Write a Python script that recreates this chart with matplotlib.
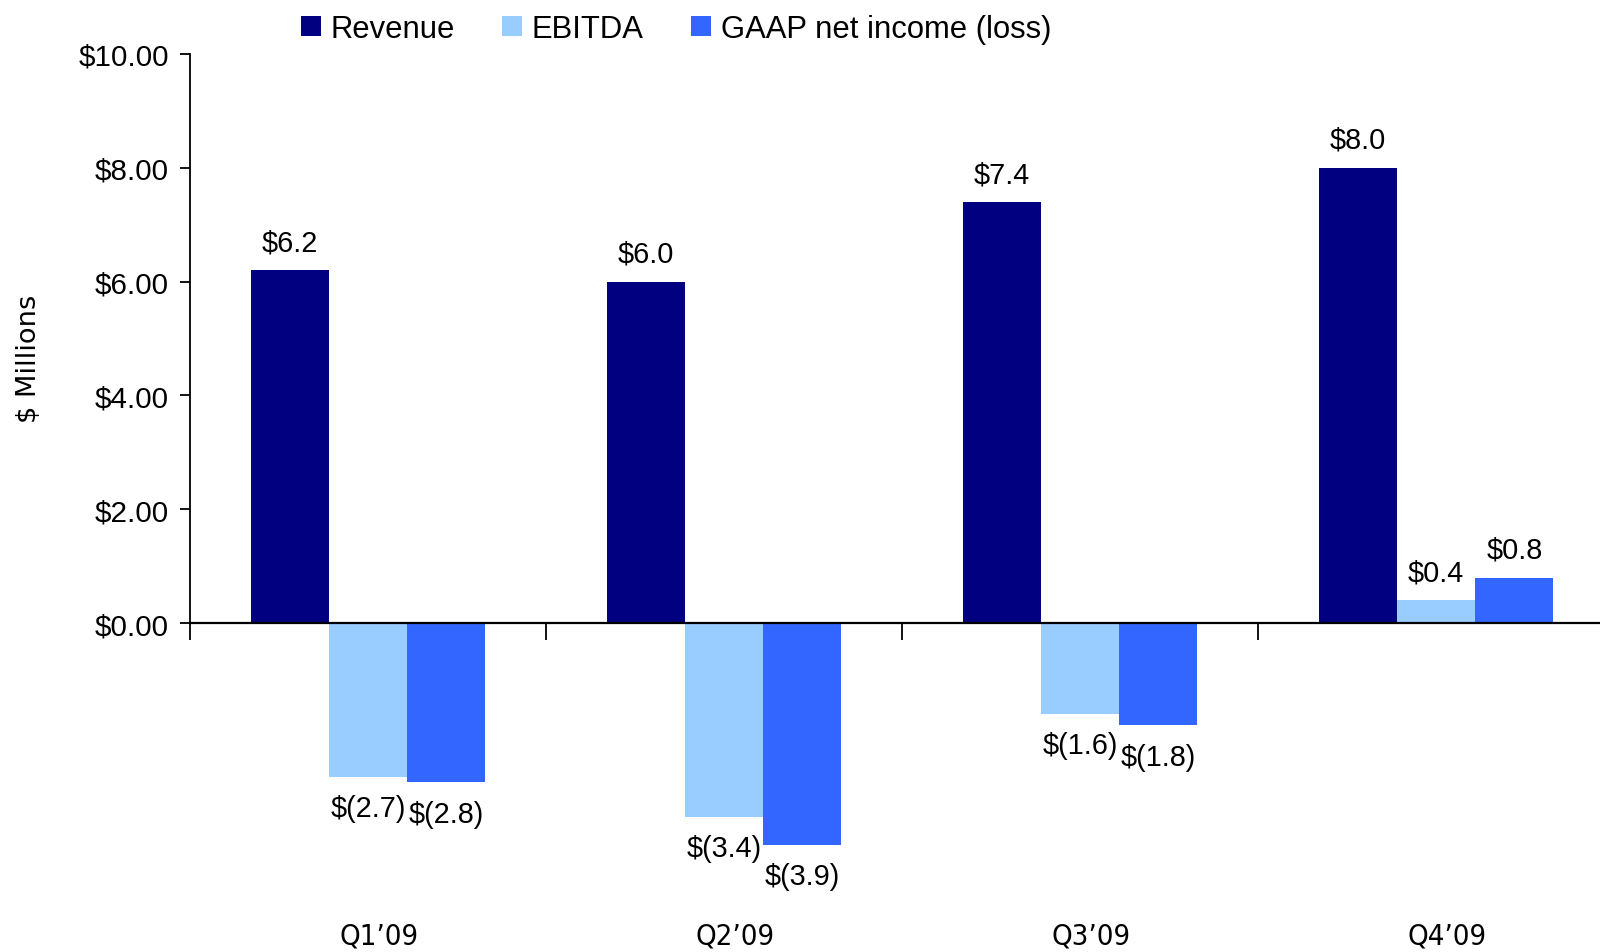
import matplotlib
matplotlib.use("Agg")
import matplotlib.pyplot as plt
import matplotlib.transforms as mtransforms
import numpy as np
from matplotlib.patches import Patch

quarters = ["Q1\u201909", "Q2\u201909", "Q3\u201909", "Q4\u201909"]
revenue = [6.2, 6.0, 7.4, 8.0]
ebitda = [-2.7, -3.4, -1.6, 0.4]
gaap = [-2.8, -3.9, -1.8, 0.8]
series_names = ["Revenue", "EBITDA", "GAAP net income (loss)"]
colors = ["#000080", "#99CCFF", "#3366FF"]
yticks = [0, 2, 4, 6, 8, 10]

W, H = 1600, 953
fig = plt.figure(figsize=(W / 100, H / 100), dpi=100)
left, right = 190, 1614
top, bottom = 55, 937
ax = fig.add_axes([left / W, 1 - bottom / H, (right - left) / W, (bottom - top) / H])

main_font = "Liberation Sans"
cat_font = "DejaVu Sans"
fs = 20.8

x = np.arange(len(quarters))
width = 0.22
series = [revenue, ebitda, gaap]
for i, (vals, col) in enumerate(zip(series, colors)):
    bars = ax.bar(x + (i - 1) * width, vals, width, color=col, linewidth=0)
    for b, v in zip(bars, vals):
        txt = f"${v:.1f}" if v >= 0 else f"$({abs(v):.1f})"
        cx = b.get_x() + b.get_width() / 2
        if v >= 0:
            ax.annotate(txt, (cx, v), xytext=(0, 10), textcoords="offset points",
                        ha="center", va="bottom", fontsize=fs, family=main_font)
        else:
            ax.annotate(txt, (cx, v), xytext=(0, -12.5), textcoords="offset points",
                        ha="center", va="top", fontsize=fs, family=main_font)

ax.set_xlim(-0.5, len(quarters) - 0.5)
ax.set_ylim(-5.5, 10)

ax.spines["top"].set_visible(False)
ax.spines["right"].set_visible(False)
ax.spines["bottom"].set_position(("data", 0))
ax.spines["bottom"].set_linewidth(1.6)
ax.spines["left"].set_bounds(0, 10)
ax.spines["left"].set_linewidth(1.3)

ax.set_yticks(yticks)
ax.set_yticklabels([f"${v:.2f}" for v in yticks], fontsize=21.3, family=main_font)
ax.tick_params(axis="y", direction="out", length=7, width=1.3, pad=8)

ax.set_xticks(x)
ax.set_xticks(np.arange(len(quarters)) - 0.5, minor=True)
ax.set_xticklabels(quarters, fontsize=21, family=cat_font, fontstretch="condensed")
ax.tick_params(axis="x", which="major", length=0, pad=215)
ax.tick_params(axis="x", which="minor", direction="out", length=12, width=1.3)
shift = mtransforms.ScaledTranslation(11 / 100, 0, fig.dpi_scale_trans)
for lab in ax.get_xticklabels():
    lab.set_transform(lab.get_transform() + shift)

ax.set_ylabel("$ Millions", fontsize=19.6, family=cat_font, labelpad=0)
ax.yaxis.set_label_coords(-0.104, 0.655)

handles = [Patch(facecolor=c, edgecolor="none") for c in colors]
fig.legend(handles, series_names, loc="center left",
           bbox_to_anchor=(301 / W, 1 - 30 / H), ncol=3, frameon=False,
           prop={"family": main_font, "size": 22.3}, handlelength=0.64,
           handleheight=0.64, handletextpad=0.3, columnspacing=1.55,
           borderpad=0, borderaxespad=0)

fig.savefig("out.png", dpi=100)
